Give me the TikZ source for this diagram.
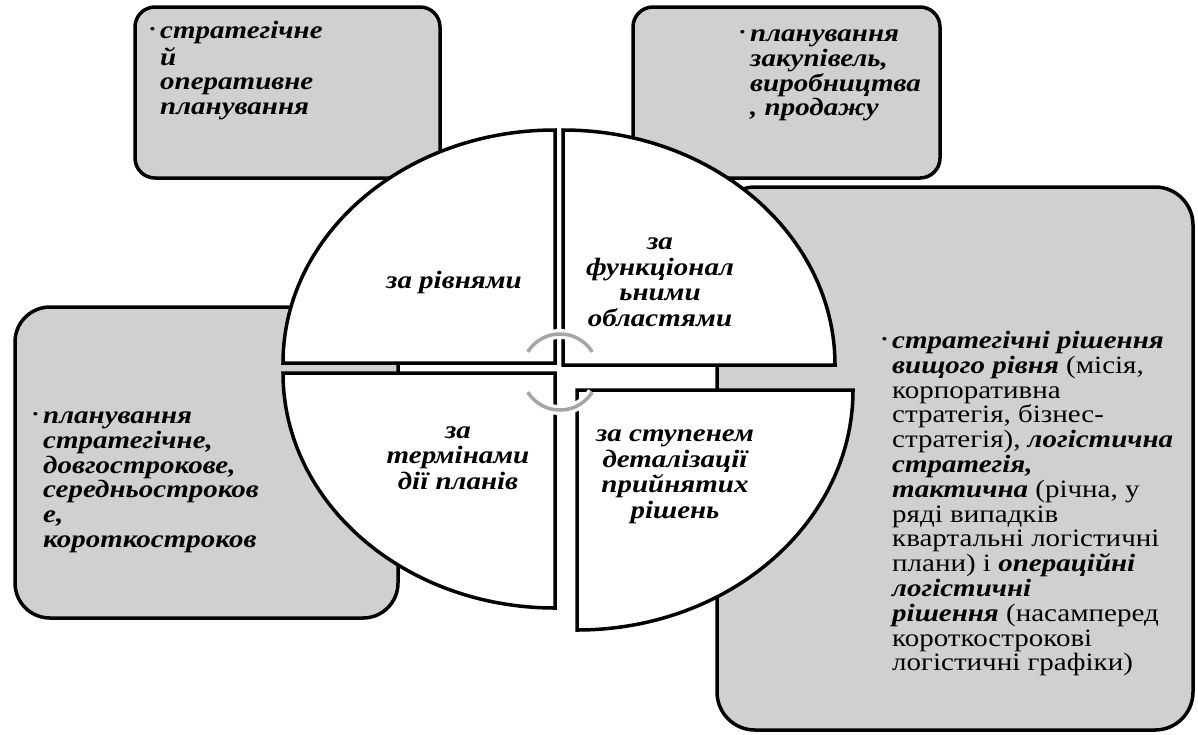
\documentclass[tikz,border=0pt]{standalone}
\usepackage{fontspec}
\setmainfont{Liberation Serif}[FakeStretch=1.16]
\definecolor{boxgray}{RGB}{208,208,208}
\definecolor{cycgray}{RGB}{165,165,165}
\newcommand\bi[1]{{\bfseries\itshape #1}}
\newcommand\bul{\strut\llap{\raisebox{5pt}{\fontsize{13}{13}\selectfont\bfseries •}\hspace{5pt}}}
\begin{document}
\begin{tikzpicture}[x=1pt,y=-1pt,
  box/.style={draw=black, line width=3.5pt, fill=boxgray, inner sep=0pt, outer sep=0pt},
  quad/.style={draw=black, line width=3.5pt, fill=white, line join=miter},
  txt/.style={inner sep=0pt, font=\fontsize{25}{24.8}\selectfont, align=left, anchor=north west},
  qtxt/.style={inner sep=0pt, font=\fontsize{25}{25.5}\selectfont\bfseries\itshape, align=center},
  halo/.style={draw=white, line width=10pt},
  cyc/.style={draw=cycgray, line width=3.5pt}]
\fill[white] (0,0) rectangle (1198,734);
\useasboundingbox (0,0) rectangle (1198,734);
% gray boxes
\node[box, rounded corners=20pt, minimum width=305pt, minimum height=171pt] (tlbox) at (287.5,92.5) {};
\node[box, rounded corners=20pt, minimum width=307pt, minimum height=171pt] (trbox) at (786.5,92.5) {};
\node[box, rounded corners=35pt, minimum width=383pt, minimum height=311pt] (mlbox) at (206.5,462.5) {};
\node[box, rounded corners=38pt, minimum width=476pt, minimum height=543pt] (brbox) at (955,458.5) {};
% quadrants
\draw[quad] (555,363) -- (283,363) arc[start angle=180, end angle=90, x radius=272pt, y radius=233pt] -- cycle;
\draw[quad] (563,365) -- (563,130) arc[start angle=90, end angle=0, x radius=272pt, y radius=235pt] -- cycle;
\draw[quad] (555,373) -- (283,373) arc[start angle=180, end angle=270, x radius=272pt, y radius=235pt] -- cycle;
\draw[quad] (577,390) -- (853,390) arc[start angle=0, end angle=-90, x radius=276pt, y radius=240pt] -- cycle;
% cycle arcs
\coordinate (cc) at (560,372);
\draw[halo] ([shift={(148:38pt)}]cc) arc[start angle=148, end angle=32, radius=38pt];
\draw[halo] ([shift={(212:38pt)}]cc) arc[start angle=212, end angle=328, radius=38pt];
\draw[cyc] ([shift={(148:38pt)}]cc) arc[start angle=148, end angle=32, radius=38pt];
\draw[cyc] ([shift={(212:38pt)}]cc) arc[start angle=212, end angle=328, radius=38pt];
% quadrant labels
\node[qtxt] (q1) at (454,282) {за рівнями};
\node[qtxt] (q2) at (660,282) {за\\функціонал\\ьними\\областями};
\node[qtxt] (q3) at (458,458) {за\\термінами\\дії планів};
\node[qtxt] (q4) at (675,477) {за ступенем\\деталізації\\прийнятих\\рішень};
% box texts
\node[txt] (t1) at (160,21) {\bul\bi{стратегічне}\\\bi{й}\\\bi{оперативне}\\\bi{планування}};
\node[txt] (t2) at (750,24) {\bul\bi{планування}\\\bi{закупівель,}\\\bi{виробництва}\\\bi{, продажу}};
\node[txt] (t3) at (43,406) {\bul\bi{планування}\\\bi{стратегічне,}\\\bi{довгострокове,}\\\bi{середньостроков}\\\bi{е,}\\\bi{короткостроков}};
\node[txt] (t4) at (892,331) {\bul\bi{стратегічні рішення}\\
\bi{вищого рівня} (місія,\\
корпоративна\\
стратегія, бізнес-\\
стратегія), \bi{логістична}\\
\bi{стратегія,}\\
\bi{тактична} (річна, у\\
ряді випадків\\
квартальні логістичні\\
плани) і \bi{операційні}\\
\bi{логістичні}\\
\bi{рішення} (насамперед\\
короткострокові\\
логістичні графіки)};
\end{tikzpicture}
\end{document}
